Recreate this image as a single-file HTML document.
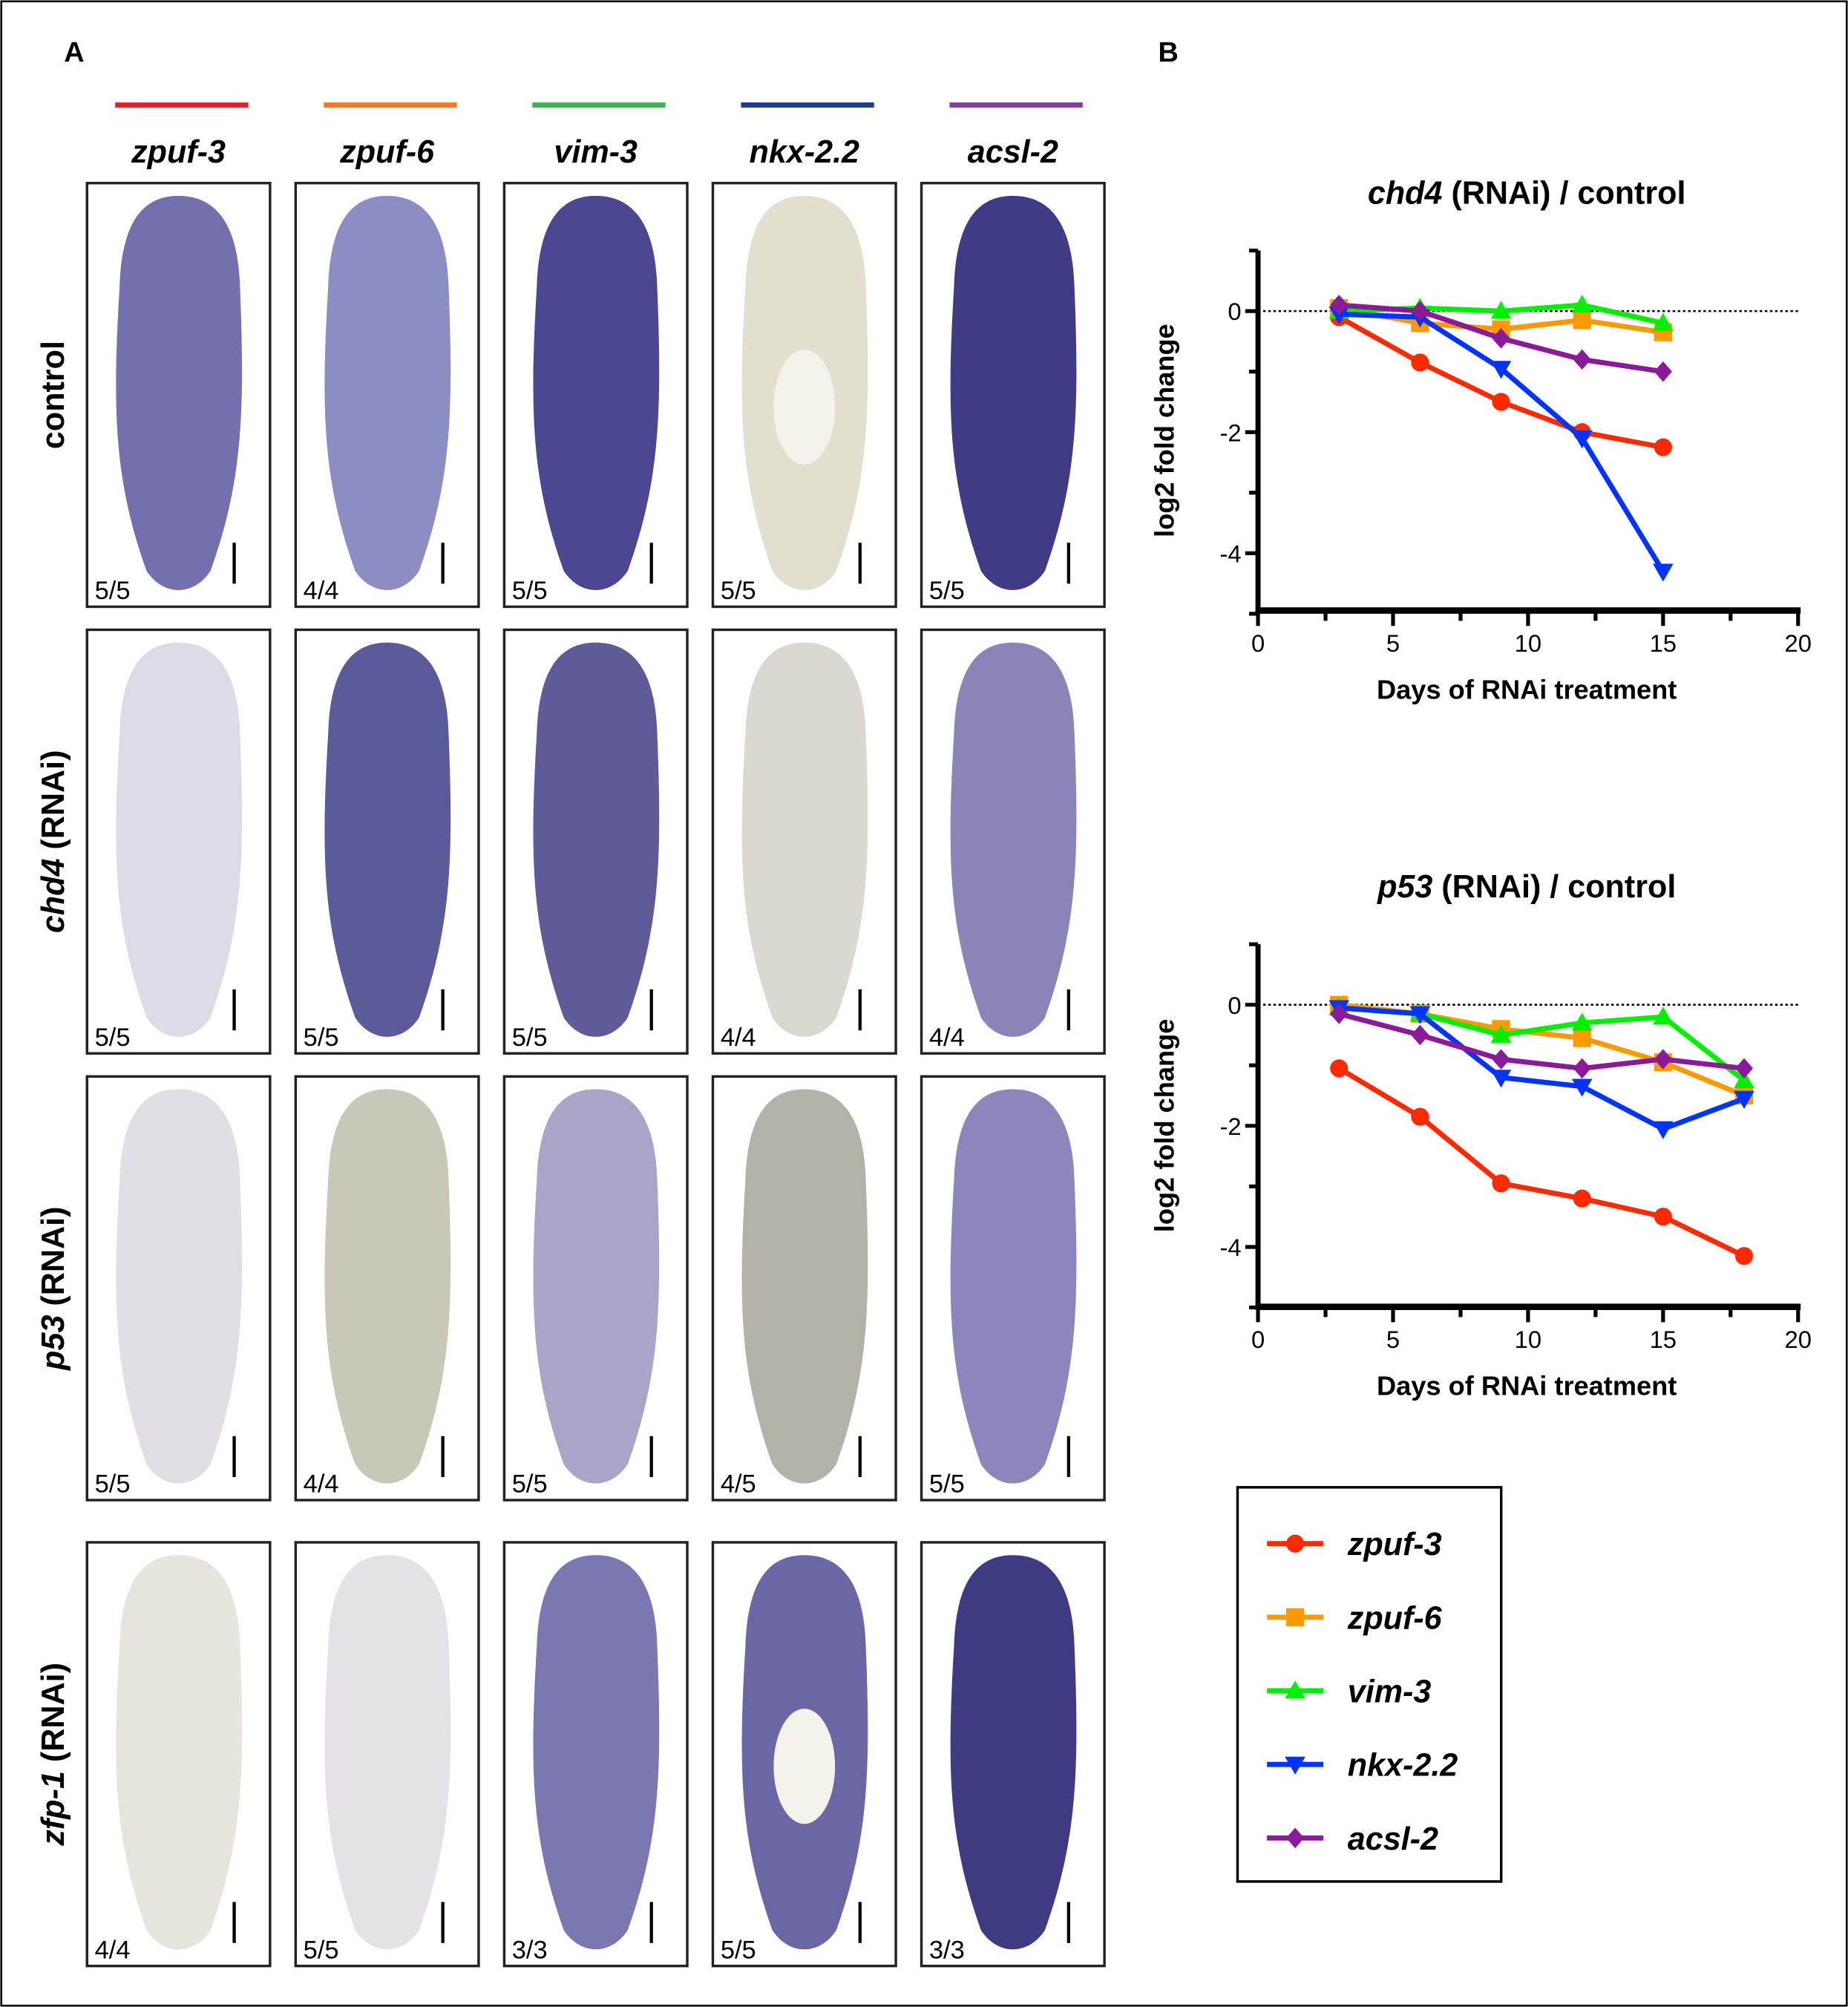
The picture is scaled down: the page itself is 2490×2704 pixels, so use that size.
<!DOCTYPE html>
<html><head><meta charset="utf-8"><style>
html,body{margin:0;padding:0;background:#fff;}
svg{display:block;font-family:"Liberation Sans",Arial,sans-serif;}
</style></head><body>
<svg id="fig" width="2490" height="2704" viewBox="0 0 1444 1568" xmlns="http://www.w3.org/2000/svg">
<rect x="1" y="1" width="1442" height="1566" fill="#fff" stroke="#000" stroke-width="1.5"/>
<text x="50" y="48" font-size="22" font-weight="bold">A</text>
<text x="905" y="48" font-size="22" font-weight="bold">B</text>
<g id="panelA"></g>
<g id="chart1"></g>
<g id="chart2"></g>
<g id="legend"></g>
</svg>
<script>
const genes = ["zpuf-3","zpuf-6","vim-3","nkx-2.2","acsl-2"];
const lineColors = ["#ff2a00","#ff9900","#00ee00","#0033ff","#8b1a9b"];
const barColors = ["#e61e28","#f07828","#3cb44b","#1e3c96","#8c3ca0"];
const days1 = [3,6,9,12,15];
const chd4_zpuf3 = [-0.1,-0.85,-1.5,-2.0,-2.25];
const chd4_zpuf6 = [0.05,-0.2,-0.3,-0.15,-0.35];
const chd4_vim3 = [0,0.05,0,0.1,-0.2];
const chd4_nkx22 = [-0.05,-0.1,-0.95,-2.1,-4.3];
const chd4_acsl2 = [0.1,0,-0.45,-0.8,-1.0];
const days2 = [3,6,9,12,15,18];
const p53_zpuf3 = [-1.05,-1.85,-2.95,-3.2,-3.5,-4.15];
const p53_zpuf6 = [0,-0.15,-0.4,-0.55,-0.95,-1.5];
const p53_vim3 = [-0.05,-0.15,-0.5,-0.3,-0.2,-1.25];
const p53_nkx22 = [-0.05,-0.15,-1.2,-1.35,-2.05,-1.55];
const p53_acsl2 = [-0.15,-0.5,-0.9,-1.05,-0.9,-1.05];
const xTicks = [0,5,10,15,20];
const yTicks = [0,-2,-4];
const rowLabels = ["control","chd4","p53","zfp-1"];
const fractions = [["5/5","4/4","5/5","5/5","5/5"],["5/5","5/5","5/5","4/4","4/4"],["5/5","4/4","5/5","4/5","5/5"],["4/4","5/5","3/3","5/5","3/3"]];

const NS="http://www.w3.org/2000/svg";
function mk(tag,attrs,parent){const e=document.createElementNS(NS,tag);for(const k in attrs)e.setAttribute(k,attrs[k]);parent.appendChild(e);return e;}

const A=document.getElementById('panelA');
const colX=[68,231,394,557,720], rowY=[143,492,841,1205], bw=143, bh=331;
const fills=[["#7370ad","#8c8dc2","#4b4791","#e2dfcf","#3f3b85"],
 ["#dddce6","#5c5b9a","#5f5b99","#dad8d0","#8985b8"],
 ["#e2dee6","#c9c7b8","#a9a5c9","#b2b2a9","#8b87bd"],
 ["#e6e4dc","#e4e2e6","#7b77b1","#6b67a5","#3f3b82"]];
function wormPath(x,y){
  const cx=x+bw/2, t=y+10, b=y+bh-8, hw=52;
  return `M${cx-hw+6},${t+70} C${cx-hw+8},${t+10} ${cx-20},${t} ${cx},${t} C${cx+20},${t} ${cx+hw-6},${t+10} ${cx+hw-4},${t+70} `+
   `C${cx+hw},${t+170} ${cx+hw-2},${b-90} ${cx+25},${b-20} C${cx+12},${b} ${cx-12},${b} ${cx-25},${b-20} `+
   `C${cx-hw+2},${b-90} ${cx-hw},${t+170} ${cx-hw+6},${t+70} Z`;
}
for(let c=0;c<5;c++){
  const cx=colX[c]+bw/2;
  let e=mk('rect',{x:colX[c]+22,y:80,width:104,height:4,fill:barColors[c]},A);
  
  
  e=mk('text',{x:cx,y:127,'font-size':25,'font-weight':'bold','font-style':'italic','text-anchor':'middle'},A);
  e.textContent=genes[c];
  
  
}
for(let r=0;r<4;r++){
  for(let c=0;c<5;c++){
    const x=colX[c],y=rowY[r];
    const g=mk('g',{},A);
    
    
    mk('rect',{x:x,y:y,width:bw,height:bh,fill:'#fff',stroke:'#222','stroke-width':2},g);
    mk('path',{d:wormPath(x,y),fill:fills[r][c]},g);
    if(c===3&&(r===0||r===3)){
      mk('ellipse',{cx:x+bw/2,cy:y+175,rx:24,ry:45,fill:'#f4f2ea'},g);
    }
    mk('line',{x1:x+bw-28,y1:y+bh-50,x2:x+bw-28,y2:y+bh-18,stroke:'#000','stroke-width':2.5},g);
    const t=mk('text',{x:x+6,y:y+bh-6,'font-size':20},g);
    t.textContent=fractions[r][c];
  }
}
const rl=[["control",""],["chd4"," (RNAi)"],["p53"," (RNAi)"],["zfp-1"," (RNAi)"]];
for(let r=0;r<4;r++){
  const cy=rowY[r]+bh/2;
  const t=mk('text',{x:0,y:0,'font-size':25,'font-weight':'bold','text-anchor':'middle',transform:`translate(50,${cy}) rotate(-90)`},A);
  const s1=mk('tspan',{'font-style':r?'italic':'normal'},t);s1.textContent=rl[r][0];
  const s2=mk('tspan',{},t);s2.textContent=rl[r][1];
  
  
}

function chart(id,title,y0,yAxisBottom,xs,series){
  const G=document.getElementById(id);
  const x0px=983,x20px=1405,pxY=47.3;
  const X=v=>x0px+(x20px-x0px)*v/20;
  const Y=v=>y0-v*pxY;
  const top=Y(1);
  let t=mk('text',{x:1193,y:y0-84,'font-size':25,'font-weight':'bold','text-anchor':'middle'},G);
  let s=mk('tspan',{'font-style':'italic'},t);s.textContent=title;
  s=mk('tspan',{},t);s.textContent=' (RNAi) / control';
  
  
  let e=mk('line',{x1:x0px,y1:top,x2:x0px,y2:yAxisBottom,stroke:'#000','stroke-width':4},G);
  
  
  e=mk('line',{x1:x0px-2,y1:yAxisBottom,x2:x20px+2,y2:yAxisBottom,stroke:'#000','stroke-width':5},G);
  
  
  for(let v=2.5;v<20;v+=5){mk('line',{x1:X(v),y1:yAxisBottom,x2:X(v),y2:yAxisBottom+8,stroke:'#000','stroke-width':3},G);}
  xTicks.forEach(v=>{
    mk('line',{x1:X(v),y1:yAxisBottom,x2:X(v),y2:yAxisBottom+12,stroke:'#000','stroke-width':3},G);
    const tt=mk('text',{x:X(v),y:yAxisBottom+32,'font-size':19,'text-anchor':'middle'},G);tt.textContent=v;
    
    
  });
  for(let v=1;v>=-5;v--){mk('line',{x1:x0px-(v%2===0?10:7),y1:Y(v),x2:x0px,y2:Y(v),stroke:'#000','stroke-width':3},G);}
  yTicks.forEach(v=>{
    const tt=mk('text',{x:x0px-13,y:Y(v)+7,'font-size':19,'text-anchor':'end'},G);tt.textContent=v;
    
    
  });
  e=mk('line',{x1:x0px,y1:Y(0),x2:X(20),y2:Y(0),stroke:'#000','stroke-width':1.5,'stroke-dasharray':'2,2'},G);
  
  
  t=mk('text',{x:0,y:0,'font-size':21,'font-weight':'bold','text-anchor':'middle',transform:`translate(917,${(top+yAxisBottom)/2}) rotate(-90)`},G);
  t.textContent='log2 fold change';
  
  
  t=mk('text',{x:1193,y:yAxisBottom+69,'font-size':21,'font-weight':'bold','text-anchor':'middle'},G);
  t.textContent='Days of RNAi treatment';
  
  
  series.forEach((vals,i)=>{
    const g=mk('g',{},G);
    
    
    const pts=vals.map((v,k)=>X(xs[k])+','+Y(v)).join(' ');
    mk('polyline',{points:pts,fill:'none',stroke:lineColors[i],'stroke-width':4},g);
    vals.forEach((v,k)=>{const m=marker(i,X(xs[k]),Y(v),g);
      
      });
  });
}
function marker(i,x,y,p){
  const c=lineColors[i];
  if(i===0)return mk('circle',{cx:x,cy:y,r:7,fill:c},p);
  if(i===1)return mk('rect',{x:x-7,y:y-7,width:14,height:14,fill:c},p);
  if(i===2)return mk('polygon',{points:`${x},${y-8} ${x+8},${y+6} ${x-8},${y+6}`,fill:c},p);
  if(i===3)return mk('polygon',{points:`${x},${y+8} ${x+8},${y-6} ${x-8},${y-6}`,fill:c},p);
  return mk('polygon',{points:`${x},${y-8} ${x+7},${y} ${x},${y+8} ${x-7},${y}`,fill:c},p);
}
chart('chart1','chd4',243,477,days1,[chd4_zpuf3,chd4_zpuf6,chd4_vim3,chd4_nkx22,chd4_acsl2]);
chart('chart2','p53',785,1021,days2,[p53_zpuf3,p53_zpuf6,p53_vim3,p53_nkx22,p53_acsl2]);

const L=document.getElementById('legend');
mk('rect',{x:967,y:1162,width:206,height:308,fill:'#fff',stroke:'#000','stroke-width':2},L);
genes.forEach((g,i)=>{
  const y=1206+i*57.5;
  const e=mk('g',{},L);
  
  
  mk('line',{x1:990,y1:y,x2:1034,y2:y,stroke:lineColors[i],'stroke-width':4},e);
  marker(i,1012,y,e);
  const t=mk('text',{x:1053,y:y+9,'font-size':25,'font-weight':'bold','font-style':'italic'},e);t.textContent=g;
});
</script>
</body></html>
